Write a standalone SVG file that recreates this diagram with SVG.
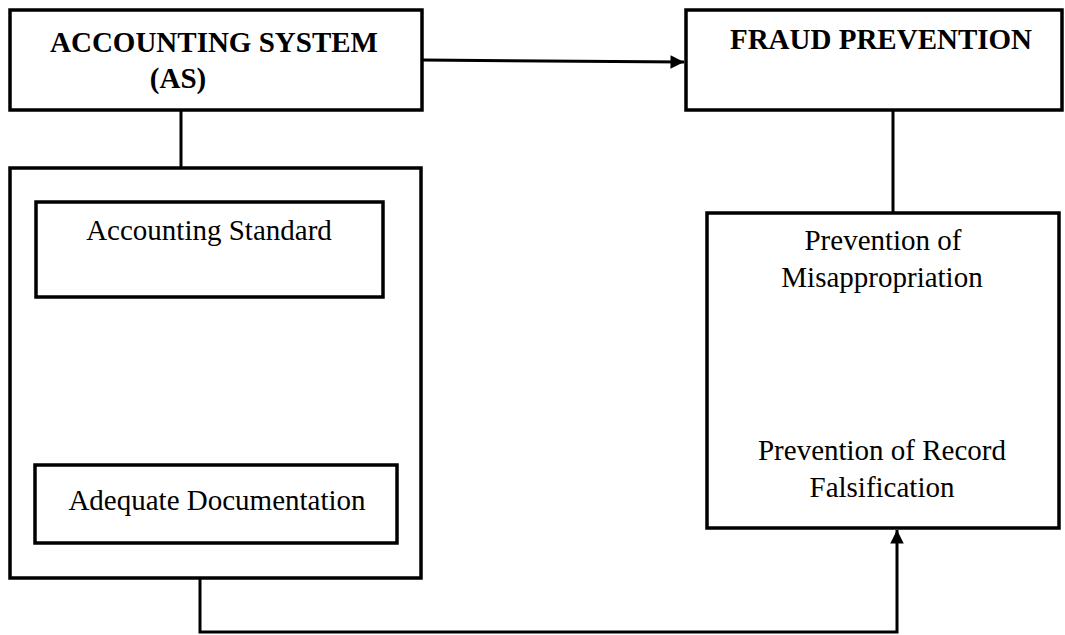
<svg xmlns="http://www.w3.org/2000/svg" width="1065" height="635" viewBox="0 0 1065 635">
<style>
.box{fill:#fff;stroke:#000;stroke-width:3.5}
.t{font-family:"Liberation Serif","Times New Roman",serif;font-size:29px;fill:#000;text-anchor:middle}
.b{font-weight:bold}
.c{fill:none;stroke:#000;stroke-width:3}
</style>
<defs>
<marker id="ah" viewBox="0 0 10 10" refX="10" refY="5" markerWidth="5" markerHeight="4.5" markerUnits="strokeWidth" orient="auto">
<path d="M0,0 L10,5 L0,10 z" fill="#000"/>
</marker>
</defs>
<rect width="1065" height="635" fill="#fff"/>
<g id="connectors">
<path class="c" d="M422,60 L684,62" marker-end="url(#ah)"/>
<path class="c" d="M181,110 L181,168"/>
<path class="c" d="M893,110 L893,213"/>
<path class="c" d="M200,578 L200,632 L897,632 L897,530" stroke-width="2.6" marker-end="url(#ah)"/>
</g>
<g id="accounting-system">
<rect class="box" x="10" y="10" width="412" height="100"/>
<text class="t b" x="214" y="52" font-size="30">ACCOUNTING SYSTEM</text>
<text class="t b" x="178" y="88" font-size="30">(AS)</text>
</g>
<g id="fraud-prevention">
<rect class="box" x="686" y="10" width="376" height="100"/>
<text class="t b" x="881" y="49" font-size="30">FRAUD PREVENTION</text>
</g>
<g id="as-components">
<rect class="box" x="10" y="168" width="411" height="410"/>
</g>
<g id="accounting-standard">
<rect class="box" x="36" y="202" width="347" height="95"/>
<text class="t" x="209" y="240">Accounting Standard</text>
</g>
<g id="adequate-documentation">
<rect class="box" x="35" y="465" width="362" height="78"/>
<text class="t" x="217" y="510">Adequate Documentation</text>
</g>
<g id="fp-components">
<rect class="box" x="707" y="213" width="352" height="315"/>
<text class="t" x="883" y="250">Prevention of</text>
<text class="t" x="882" y="287">Misappropriation</text>
<text class="t" x="882" y="460">Prevention of Record</text>
<text class="t" x="882" y="497">Falsification</text>
</g>
</svg>
